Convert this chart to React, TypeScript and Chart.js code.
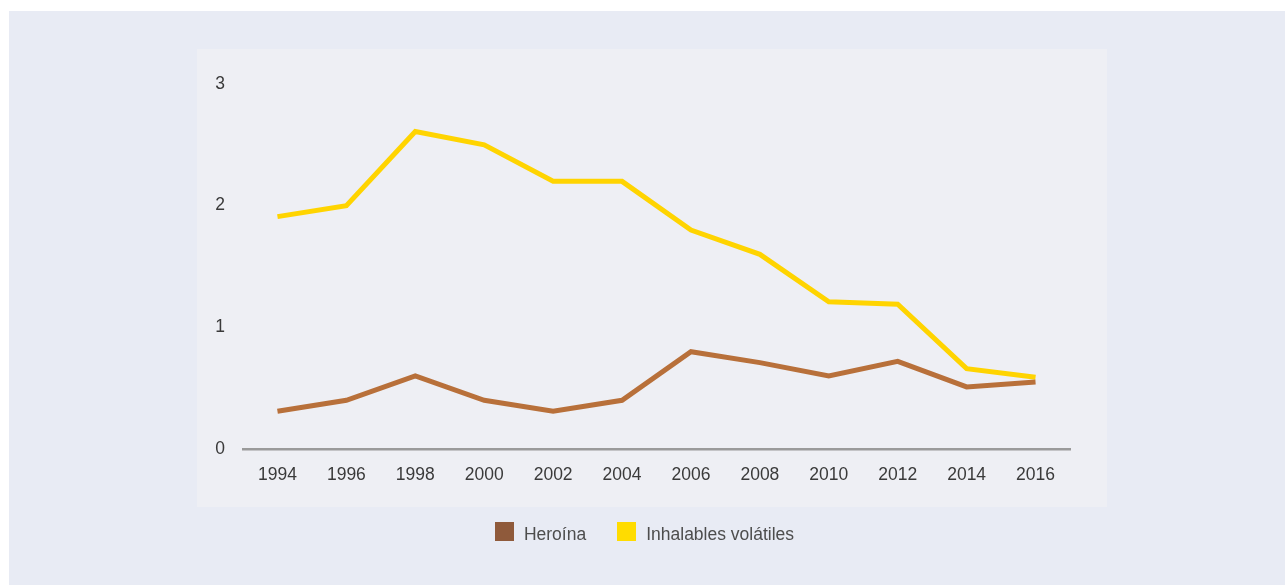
import React, { useEffect, useRef } from "react";
import { Chart, registerables } from "chart.js";

Chart.register(...registerables);

const years = ["1994", "1996", "1998", "2000", "2002", "2004", "2006", "2008", "2010", "2012", "2014", "2016"];
const heroina = [0.31, 0.4, 0.6, 0.4, 0.31, 0.4, 0.8, 0.71, 0.6, 0.72, 0.51, 0.55];
const inhalables = [1.91, 2.0, 2.61, 2.5, 2.2, 2.2, 1.8, 1.6, 1.21, 1.19, 0.66, 0.59];
const yTicks = [0, 1, 2, 3];

const seriesNames = ["Heroína", "Inhalables volátiles"];
const lineColors = ["#b8703a", "#ffd400"];
const legendColors = ["#8f5a3b", "#ffdc00"];

const FONT = "'Liberation Sans', Arial, Helvetica, sans-serif";

const bgPlugin = {
  id: "bgPanels",
  beforeDraw(chart: any) {
    const ctx = chart.ctx;
    ctx.save();
    ctx.fillStyle = "#e8ebf4";
    ctx.fillRect(9, 11, 1276, 574);
    ctx.fillStyle = "#eeeff4";
    ctx.fillRect(197, 49, 910, 458);
    ctx.restore();
  },
};

export default function App() {
  const ref = useRef<HTMLCanvasElement | null>(null);

  useEffect(() => {
    if (!ref.current) return;
    const chart = new Chart(ref.current, {
      type: "line",
      data: {
        labels: years,
        datasets: [
          {
            label: seriesNames[0],
            data: heroina,
            borderColor: lineColors[0],
            backgroundColor: legendColors[0],
            borderWidth: 5,
            pointRadius: 0,
            tension: 0,
          },
          {
            label: seriesNames[1],
            data: inhalables,
            borderColor: lineColors[1],
            backgroundColor: legendColors[1],
            borderWidth: 5,
            pointRadius: 0,
            tension: 0,
          },
        ],
      },
      options: {
        animation: false,
        responsive: false,
        maintainAspectRatio: false,
        layout: { padding: { left: 197, right: 215, top: 84, bottom: 76 } },
        plugins: {
          legend: { display: false },
          tooltip: { enabled: false },
        },
        scales: {
          x: {
            type: "category",
            offset: true,
            grid: { display: false, drawTicks: false },
            border: { display: true, color: "#9a9a9a", width: 2.5 },
            ticks: {
              color: "#3a3a3a",
              font: { family: FONT, size: 17.5 },
              padding: 16,
              maxRotation: 0,
              autoSkip: false,
            },
            afterFit: (s: any) => {
              s.height = 60;
            },
          },
          y: {
            min: 0,
            max: 3,
            afterBuildTicks: (s: any) => {
              s.ticks = yTicks.map((v) => ({ value: v }));
            },
            grid: { display: false, drawTicks: false },
            border: { display: false },
            ticks: {
              color: "#3a3a3a",
              font: { family: FONT, size: 17.5 },
              padding: 18,
            },
            afterFit: (s: any) => {
              s.width = 46;
            },
          },
        },
      },
      plugins: [bgPlugin],
    });
    return () => chart.destroy();
  }, []);

  return (
    <div style={{ position: "absolute", left: 0, top: 0, width: 1285, height: 585 }}>
      <canvas ref={ref} width={1285} height={585} style={{ display: "block", width: 1285, height: 585 }} />
      <div
        style={{
          position: "absolute",
          top: 522,
          left: 0,
          width: 1285,
          display: "flex",
          justifyContent: "center",
          fontFamily: FONT,
          fontSize: 17.5,
          color: "#4d4d4d",
          lineHeight: "19px",
        }}
      >
        <div style={{ display: "flex", alignItems: "flex-start", marginLeft: 4 }}>
          {seriesNames.map((n, i) => (
            <div key={n} style={{ display: "flex", alignItems: "flex-start", marginRight: i === 0 ? 31 : 0 }}>
              <span style={{ display: "inline-block", width: 19, height: 19, background: legendColors[i], marginRight: 10 }} />
              <span style={{ position: "relative", top: 3 }}>{n}</span>
            </div>
          ))}
        </div>
      </div>
    </div>
  );
}
